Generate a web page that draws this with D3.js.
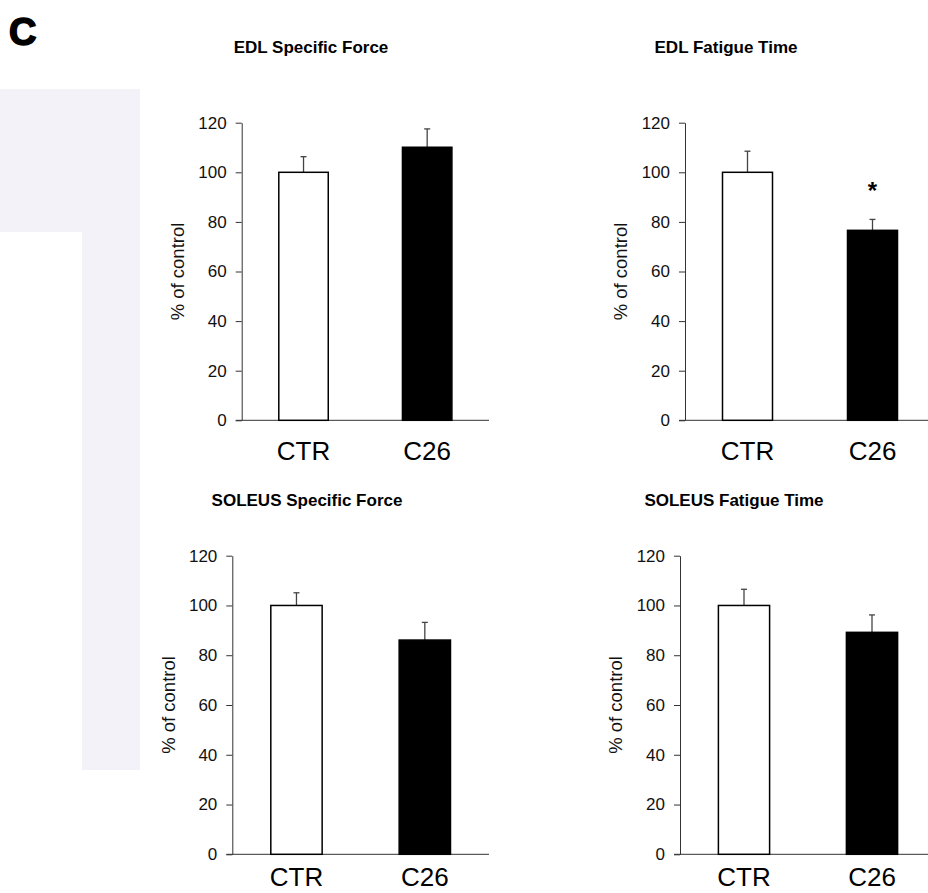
<!DOCTYPE html>
<html>
<head>
<meta charset="utf-8">
<title>EDL / SOLEUS force and fatigue</title>
<script src="https://cdn.jsdelivr.net/npm/d3@7/dist/d3.min.js"></script>
<style>
  body { margin: 0; background: #fff; }
  svg { display: block; font-family: "Liberation Sans", Arial, sans-serif; }
</style>
</head>
<body>
<script>
// data
const categories = ['CTR', 'C26'];
const yTicks = [0, 20, 40, 60, 80, 100, 120];
const panelTitles = ['EDL Specific Force', 'EDL Fatigue Time', 'SOLEUS Specific Force', 'SOLEUS Fatigue Time'];
const edlForce = [100, 110.1];
const edlForceErr = [6.3, 7.4];
const edlFatigue = [100, 76.6];
const edlFatigueErr = [8.5, 4.4];
const solForce = [100, 86.1];
const solForceErr = [5.1, 7.1];
const solFatigue = [100, 89.2];
const solFatigueErr = [6.5, 7.0];
const starred = [[false, false], [false, true], [false, false], [false, false]];

const W = 928, H = 893;
const svg = d3.select('body').append('svg').attr('width', W).attr('height', H);

// pale backdrop shape on the left
svg.append('path')
  .attr('d', 'M0,89H140V770H82V232H0Z')
  .attr('fill', '#f2f2f8');

// panel letter, a bit heavier than plain bold
svg.append('text').text('C')
  .attr('x', 9).attr('y', 45)
  .attr('font-size', 38).attr('font-weight', 'bold')
  .attr('stroke', '#000').attr('stroke-width', 1.6);

// panel frames: axis origin, right end and top (value 120)
const frames = [
  { x0: 241.7, x1: 489, y0: 420.3, yT: 122.7, titleX: 311, titleY: 53, pad: 21 },
  { x0: 685,   x1: 935, y0: 420.3, yT: 122.7, titleX: 726, titleY: 53, pad: 21 },
  { x0: 232.3, x1: 489, y0: 854.3, yT: 555.7, titleX: 307, titleY: 506, pad: 13 },
  { x0: 680,   x1: 936, y0: 854.3, yT: 555.7, titleX: 734, titleY: 506, pad: 13 }
];
const values = [edlForce, edlFatigue, solForce, solFatigue];
const errors = [edlForceErr, edlFatigueErr, solForceErr, solFatigueErr];

frames.forEach(function(f, p) {
  const g = svg.append('g');
  const x = d3.scaleBand().domain(categories).range([f.x0, f.x1]).paddingInner(0.6).paddingOuter(0.3);
  const y = d3.scaleLinear().domain([0, 120]).range([f.y0, f.yT]);

  g.append('text').text(panelTitles[p])
    .attr('x', f.titleX).attr('y', f.titleY)
    .attr('text-anchor', 'middle')
    .attr('font-size', 17).attr('font-weight', 'bold');

  // y axis
  const ya = g.append('g').attr('transform', 'translate(' + f.x0 + ',0)')
    .call(d3.axisLeft(y).tickValues(yTicks).tickSize(6).tickSizeOuter(0).tickPadding(9));
  ya.selectAll('text').attr('font-size', 17).attr('fill', '#111');
  ya.selectAll('line, path').attr('stroke', '#333');

  // x axis
  const xa = g.append('g').attr('transform', 'translate(0,' + f.y0 + ')')
    .call(d3.axisBottom(x).tickSize(0).tickPadding(f.pad));
  xa.select('path.domain').attr('d', 'M' + (f.x0 - 6) + ',0H' + f.x1).attr('stroke', '#333');
  xa.selectAll('text').attr('font-size', 26).attr('fill', '#000');

  g.append('text').text('% of control')
    .attr('transform', 'translate(' + (f.x0 - 64) + ',' + y(60) + ') rotate(-90)')
    .attr('text-anchor', 'middle')
    .attr('dy', '0.35em')
    .attr('font-size', 18.5).attr('fill', '#111');

  // error bars (upper only)
  const eb = g.selectAll('g.err').data(categories).enter().append('g').attr('class', 'err');
  eb.append('line')
    .attr('x1', function(d) { return x(d) + x.bandwidth() / 2; })
    .attr('x2', function(d) { return x(d) + x.bandwidth() / 2; })
    .attr('y1', function(d, i) { return y(values[p][i]); })
    .attr('y2', function(d, i) { return y(values[p][i] + errors[p][i]); })
    .attr('stroke', '#444').attr('stroke-width', 1.3);
  eb.append('line')
    .attr('x1', function(d) { return x(d) + x.bandwidth() / 2 - 3; })
    .attr('x2', function(d) { return x(d) + x.bandwidth() / 2 + 3; })
    .attr('y1', function(d, i) { return y(values[p][i] + errors[p][i]); })
    .attr('y2', function(d, i) { return y(values[p][i] + errors[p][i]); })
    .attr('stroke', '#444').attr('stroke-width', 1.3);

  // bars
  g.selectAll('rect.bar').data(categories).enter().append('rect').attr('class', 'bar')
    .attr('x', function(d) { return x(d); })
    .attr('width', x.bandwidth())
    .attr('y', function(d, i) { return y(values[p][i]); })
    .attr('height', function(d, i) { return f.y0 - y(values[p][i]); })
    .attr('fill', function(d, i) { return i === 0 ? '#fff' : '#000'; })
    .attr('stroke', '#000').attr('stroke-width', 1.5);

  // significance marks
  categories.forEach(function(c, i) {
    if (starred[p][i]) {
      g.append('text').text('*')
        .attr('x', x(c) + x.bandwidth() / 2)
        .attr('y', y(values[p][i] + errors[p][i]) - 20)
        .attr('text-anchor', 'middle')
        .attr('font-size', 24).attr('font-weight', 'bold');
    }
  });
});
</script>
</body>
</html>
